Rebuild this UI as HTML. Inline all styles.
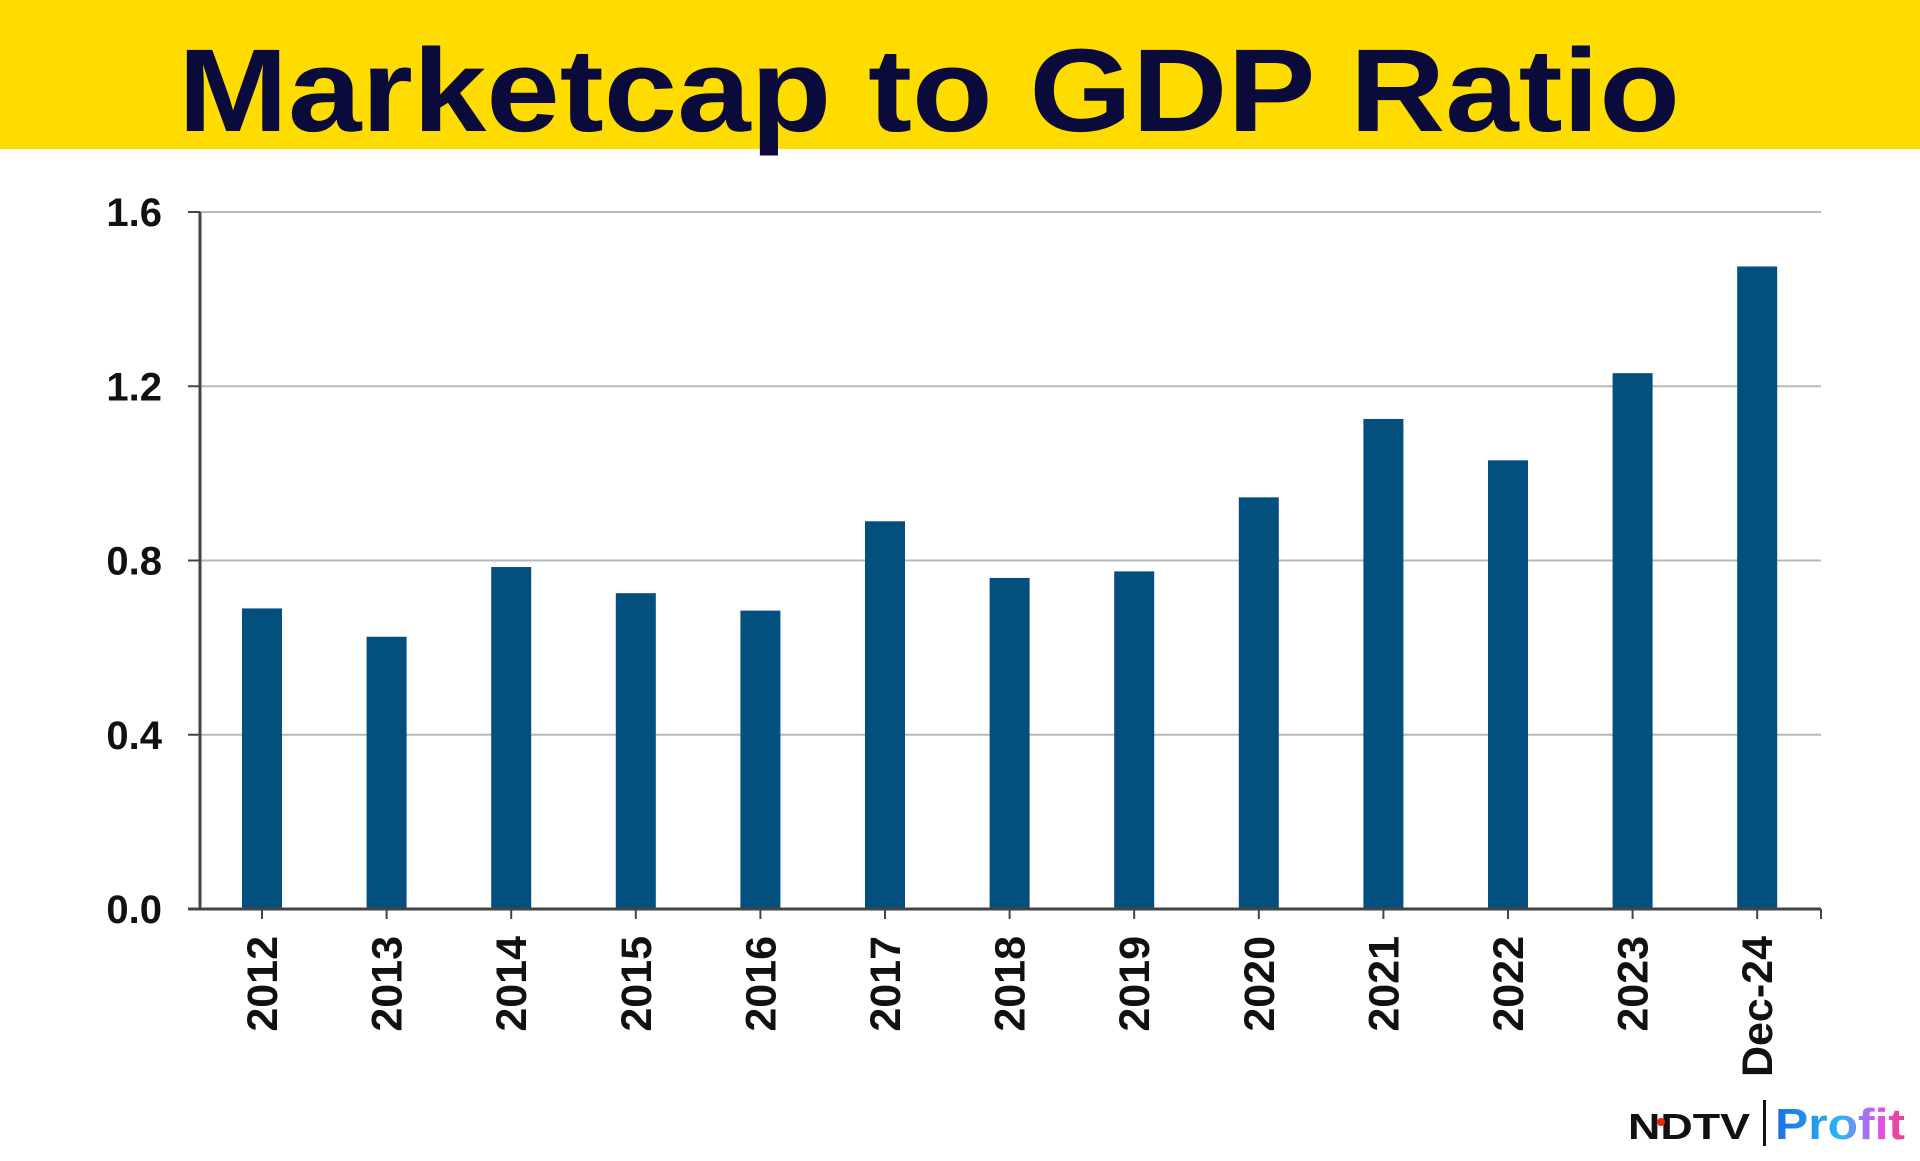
<!DOCTYPE html>
<html><head><meta charset="utf-8"><style>
body{margin:0;width:1920px;height:1156px;background:#fff;overflow:hidden;font-family:"Liberation Sans",sans-serif}
</style></head><body>
<svg width="1920" height="1156" id="svg">
<rect x="0" y="0" width="1920" height="149" fill="#ffdc00"/>
<text x="178" y="131" font-size="118" font-weight="bold" fill="#0b0b3b" textLength="1502" lengthAdjust="spacingAndGlyphs">Marketcap to GDP Ratio</text>
<g id="grid"></g><g id="bars"></g><g id="axes"></g>
<g>
<text x="1628" y="1139" font-size="36" font-weight="bold" fill="#111" textLength="122" lengthAdjust="spacingAndGlyphs">NDTV</text>
<circle cx="1661" cy="1122" r="4" fill="#e21"/>
<rect x="1763" y="1100" width="3" height="46" fill="#111"/>
<defs><linearGradient id="pg" x1="0" x2="1"><stop offset="0" stop-color="#1a6fe0"/><stop offset="0.5" stop-color="#29b6f6"/><stop offset="0.8" stop-color="#e050f0"/><stop offset="1" stop-color="#f0407a"/></linearGradient></defs>
<text x="1775" y="1139" font-size="44" font-weight="bold" fill="url(#pg)" textLength="130" lengthAdjust="spacingAndGlyphs">Profit</text>
</g>
</svg>
<script>
const categories=["2012","2013","2014","2015","2016","2017","2018","2019","2020","2021","2022","2023","Dec-24"];
const values=[0.69,0.625,0.785,0.725,0.685,0.89,0.76,0.775,0.945,1.125,1.03,1.23,1.475];
const yTicks=[0,0.4,0.8,1.2,1.6];
const NS="http://www.w3.org/2000/svg";
const x0=200,x1=1821,yB=909,yT=212,firstC=262,step=124.6,bw=40;
const y=v=>yB-(v/1.6)*(yB-yT);
const xc=i=>firstC+i*step;
function mk(t,a,p){const e=document.createElementNS(NS,t);for(const k in a)e.setAttribute(k,a[k]);p.appendChild(e);return e;}
const grid=document.getElementById('grid'),bars=document.getElementById('bars'),axes=document.getElementById('axes');
yTicks.forEach(v=>{
 if(v>0){const l=mk('line',{x1:x0,x2:x1,y1:y(v),y2:y(v),stroke:'#b8b8b8','stroke-width':2},grid);
 
 }
 mk('line',{x1:x0-12,x2:x0,y1:y(v),y2:y(v),stroke:'#444','stroke-width':2},axes);
 const t=mk('text',{x:x0-38,y:y(v)+14,'font-size':40,'text-anchor':'end',fill:'#111','font-weight':'bold'},axes);
 t.textContent=v.toFixed(1);
 
 
});
values.forEach((v,i)=>{
 const r=mk('rect',{x:xc(i)-bw/2,y:y(v),width:bw,height:yB-y(v),fill:'#03507f'},bars);
 
 
 mk('line',{x1:xc(i),x2:xc(i),y1:yB,y2:yB+10,stroke:'#444','stroke-width':2},axes);
 const t=mk('text',{x:0,y:0,'font-size':43,'font-weight':'bold','text-anchor':'end',fill:'#111',transform:`translate(${xc(i)+15},${yB+27}) rotate(-90)`},axes);
 t.textContent=categories[i];
 
 
});
mk('line',{x1:x0,x2:x0,y1:yT,y2:yB,stroke:'#444','stroke-width':3},axes);
mk('line',{x1:x0-12,x2:x1,y1:yB,y2:yB,stroke:'#444','stroke-width':3},axes);
mk('line',{x1:x1,x2:x1,y1:yB,y2:yB+10,stroke:'#444','stroke-width':2},axes);
</script>
</body></html>
